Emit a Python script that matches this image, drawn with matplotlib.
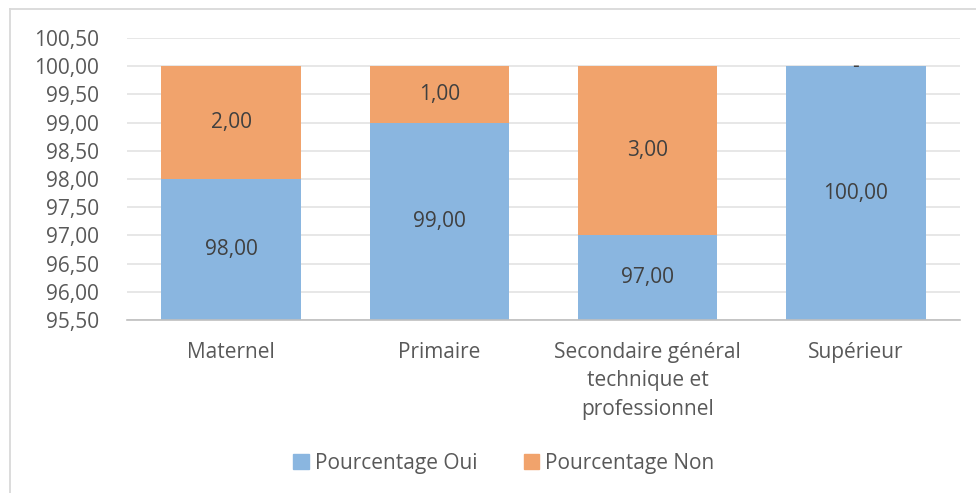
import matplotlib
matplotlib.use("Agg")
import matplotlib.pyplot as plt
from matplotlib.lines import Line2D
from matplotlib.patches import Patch

categories = ["Maternel", "Primaire", "Secondaire général\ntechnique et\nprofessionnel", "Supérieur"]
pct_oui = [98.00, 99.00, 97.00, 100.00]
pct_non = [2.00, 1.00, 3.00, 0.00]
y_ticks = [95.5, 96.0, 96.5, 97.0, 97.5, 98.0, 98.5, 99.0, 99.5, 100.0, 100.5]

BLUE = "#8AB6E0"
ORANGE = "#F1A36C"
TICK_COL = "#595959"
LABEL_COL = "#404040"
FS = 15

plt.rcParams["font.family"] = ["Open Sans", "DejaVu Sans"]


def fmt(v):
    if v == 0:
        return "-"
    return f"{v:.2f}".replace(".", ",")


W, H = 976, 493
fig = plt.figure(figsize=(W / 100, H / 100), dpi=100)
ax = fig.add_axes([127 / W, 1 - 320 / H, (960 - 127) / W, (320 - 38) / H])

ymin, ymax = y_ticks[0], y_ticks[-1]
x = list(range(len(categories)))
bw = 0.67

# Excel-style stacked bars start from the axis minimum
ax.bar(x, [v - ymin for v in pct_oui], bw, bottom=ymin, color=BLUE, zorder=2)
ax.bar(x, pct_non, bw, bottom=pct_oui, color=ORANGE, zorder=2)

for i in x:
    top_oui = pct_oui[i]
    ax.text(i, (ymin + top_oui) / 2, fmt(pct_oui[i]), ha="center", va="center",
            fontsize=FS, color=LABEL_COL, zorder=3)
    top_non = pct_oui[i] + pct_non[i]
    ax.text(i, (top_oui + top_non) / 2, fmt(pct_non[i]), ha="center", va="center",
            fontsize=FS, color=LABEL_COL, zorder=3)

ax.set_xlim(-0.5, len(categories) - 0.5)
ax.set_ylim(ymin, ymax)
ax.set_yticks(y_ticks)
ax.set_yticklabels([fmt(t) for t in y_ticks])
ax.set_xticks(x)
ax.set_xticklabels(categories, linespacing=1.45)
ax.tick_params(axis="y", length=0, pad=20, labelsize=FS, labelcolor=TICK_COL)
ax.tick_params(axis="x", length=0, pad=16, labelsize=FS, labelcolor=TICK_COL)
ax.grid(axis="y", color="#E3E3E3", linewidth=1.2, zorder=0)
ax.set_axisbelow(True)
for s in ["top", "right", "left"]:
    ax.spines[s].set_visible(False)
ax.spines["bottom"].set_color("#BFBFBF")
ax.spines["bottom"].set_linewidth(1.2)
ax.spines["bottom"].set_zorder(4)

handles = [Patch(color=BLUE, label="Pourcentage Oui"),
           Patch(color=ORANGE, label="Pourcentage Non")]
fig.legend(handles=handles, loc="center", bbox_to_anchor=(504 / W, 1 - 463 / H),
           ncol=2, frameon=False, fontsize=FS, labelcolor=TICK_COL,
           handlelength=0.75, handleheight=0.75, handletextpad=0.3, columnspacing=2.2)

# chart frame (only top and left visible in the crop)
fig.add_artist(Line2D([10 / W, 1], [1 - 9 / H, 1 - 9 / H], color="#D9D9D9", lw=1.3,
                      transform=fig.transFigure))
fig.add_artist(Line2D([10 / W, 10 / W], [1 - 9 / H, 0], color="#D9D9D9", lw=1.3,
                      transform=fig.transFigure))

fig.savefig("out.png", dpi=100)
